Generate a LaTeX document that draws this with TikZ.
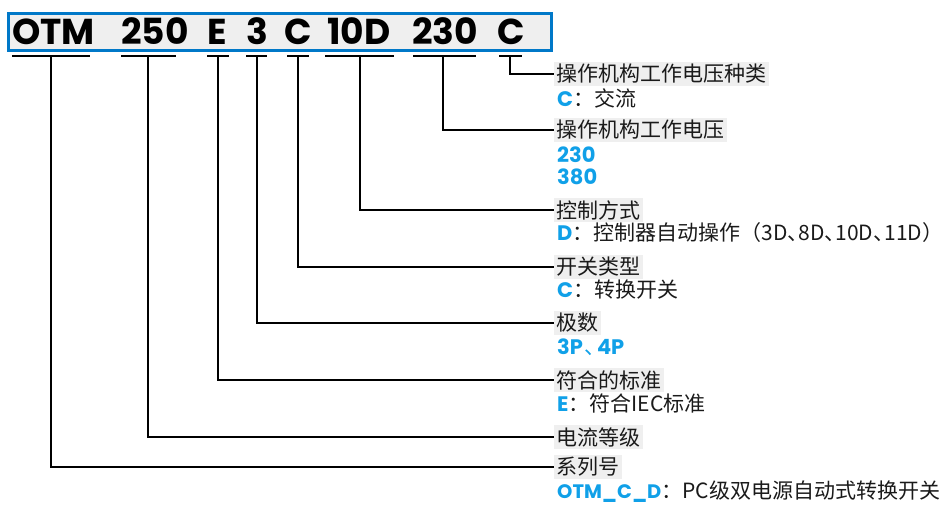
\documentclass[tikz,border=0pt]{standalone}
\usepackage{fontspec}
\setmainfont{Noto Sans CJK SC}
\newfontfamily\cjkh[RawFeature=+halt]{Noto Sans CJK SC}
\newfontfamily\lat{Poppins}
\definecolor{boxblue}{HTML}{0078C8}
\definecolor{codeblue}{HTML}{10A0E8}
\definecolor{lgrey}{HTML}{EFEFEF}
\definecolor{txt}{HTML}{1A1A1A}
\newcommand{\cd}[1]{{\lat\bfseries\color{codeblue}#1}}
\newcommand{\hw}[1]{{\cjkh #1}}
\newcommand{\dun}{\makebox[11pt][l]{\hw{、}}}
\begin{document}
\begin{tikzpicture}[x=1pt,y=-1pt,
  hdr/.style={anchor=base west, inner sep=0pt, font=\lat\bfseries\fontsize{36}{36}\selectfont},
  lab/.style={anchor=west, fill=lgrey, inner sep=2.5pt, text=txt, font=\fontsize{21}{21}\selectfont},
  det/.style={anchor=west, inner sep=0pt, text=txt, font=\fontsize{21}{21}\selectfont},
  uline/.style={line width=2pt, black},
  conn/.style={line width=1.5pt, black}]
\useasboundingbox (0,0) rectangle (947,505);
% header box
\draw[boxblue, line width=3pt, fill=lgrey] (8.5,14) rectangle (551.5,50.5);
\node[hdr] (h1) at (12,45) {OTM};
\node[hdr] (h2) at (121,45) {250};
\node[hdr] (h3) at (207,45) {E};
\node[hdr] (h4) at (246,45) {3};
\node[hdr] (h5) at (284,45) {C};
\node[hdr] (h6) at (327,45) {10D};
\node[hdr] (h7) at (412,45) {230};
\node[hdr] (h8) at (497,45) {C};
% underlines
\coordinate (u1a) at (12,56); \coordinate (u1b) at (90,56);
\coordinate (u2a) at (121,56); \coordinate (u2b) at (176,56);
\coordinate (u3a) at (207,56); \coordinate (u3b) at (229,56);
\coordinate (u4a) at (246,56); \coordinate (u4b) at (267,56);
\coordinate (u5a) at (287,56); \coordinate (u5b) at (309,56);
\coordinate (u6a) at (325,56); \coordinate (u6b) at (394,56);
\coordinate (u7a) at (413,56); \coordinate (u7b) at (476,56);
\coordinate (u8a) at (499,56); \coordinate (u8b) at (522,56);
\foreach \i in {1,...,8} {\draw[uline] (u\i a) -- (u\i b);}
\coordinate (v1) at (51,56);
\coordinate (v2) at (148,56);
\coordinate (v3) at (218,56);
\coordinate (v4) at (257,56);
\coordinate (v5) at (298,56);
\coordinate (v6) at (360,56);
\coordinate (v7) at (443,56);
\coordinate (v8) at (510,56);
% labels
\node[lab] (l8) at (554,74) {操作机构工作电压种类};
\node[det] (d8) at (557,98) {\cd{C}：交流};
\node[lab] (l7) at (554,130) {操作机构工作电压};
\node[det] (d7a) at (557,155) {\cd{230}};
\node[det] (d7b) at (557,177) {\cd{380}};
\node[lab] (l6) at (554,210) {控制方式};
\node[det] (d6) at (557,233) {\cd{D}：控制器自动操作（3D\dun 8D\dun 10D\dun 11D\hw{）}};
\node[lab] (l5) at (554,267) {开关类型};
\node[det] (d5) at (557,290) {\cd{C}：转换开关};
\node[lab] (l4) at (554,323) {极数};
\node[det] (d4) at (557,347) {\cd{3P}\hspace{1pt}{\color{codeblue}\makebox[13pt][l]{\hw{、}}}\cd{4P}};
\node[lab] (l3) at (554,380) {符合的标准};
\node[det] (d3) at (557,403) {\cd{E}：符合IEC标准};
\node[lab] (l2) at (554,437) {电流等级};
\node[lab] (l1) at (554,467) {系列号};
\node[det] (d1) at (557,492) {{\fontsize{19.5}{20}\selectfont\cd{OTM\_C\_D}}：PC级双电源自动式转换开关};
% connectors
\foreach \i in {1,...,8} {\draw[conn] (v\i) |- (l\i.west);}
\end{tikzpicture}
\end{document}
